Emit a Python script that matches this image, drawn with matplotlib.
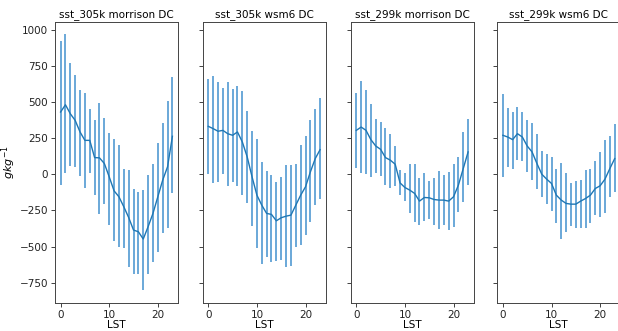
import matplotlib
matplotlib.use("Agg")
import matplotlib.pyplot as plt
import numpy as np

hours = list(range(24))
titles = ["sst_305k morrison DC", "sst_305k wsm6 DC", "sst_299k morrison DC", "sst_299k wsm6 DC"]

mean_305_morr = [430, 480, 418, 372, 292, 234, 234, 115, 113, 74, -18, -115, -156, -225, -299, -386, -398, -448, -363, -271, -156, -41, 51, 262]
lo_305_morr = [-76, 5, 55, 51, -11, -92, 9, -145, -278, -207, -352, -462, -501, -513, -639, -690, -690, -800, -690, -609, -536, -409, -375, -133]
hi_305_morr = [924, 966, 768, 685, 579, 561, 453, 372, 494, 386, 285, 241, 200, 39, 28, -103, -126, -110, -7, 69, 216, 354, 506, 671]

mean_305_wsm6 = [331, 315, 297, 303, 280, 269, 292, 223, 120, -18, -145, -214, -271, -278, -322, -301, -290, -283, -214, -145, -87, 16, 108, 170]
lo_305_wsm6 = [0, -64, -52, 0, -83, -53, -80, -145, -202, -356, -513, -621, -570, -605, -598, -593, -644, -632, -501, -490, -418, -329, -214, -170]
hi_305_wsm6 = [655, 680, 634, 598, 634, 591, 609, 575, 434, 299, 246, 85, 25, -7, -57, -18, 64, 64, 69, 202, 262, 372, 453, 529]

mean_299_morr = [303, 326, 303, 239, 195, 172, 115, 97, 69, -60, -92, -110, -133, -186, -161, -163, -175, -179, -179, -186, -156, -76, 39, 154]
lo_299_morr = [44, 5, 0, -18, 9, -11, -78, -94, -80, -145, -186, -271, -329, -349, -324, -308, -351, -381, -354, -384, -368, -264, -191, -76]
hi_299_morr = [563, 646, 584, 487, 379, 361, 320, 280, 195, 32, 5, 69, 69, -28, 5, -48, -28, 25, -7, 18, 69, 120, 292, 384]

mean_299_wsm6 = [269, 257, 239, 280, 257, 195, 154, 74, 0, -34, -64, -145, -179, -202, -207, -207, -186, -168, -145, -99, -80, -34, 39, 108]
lo_299_wsm6 = [-18, 48, 39, 101, 90, 16, -41, -99, -156, -207, -253, -336, -446, -402, -359, -375, -370, -375, -340, -283, -294, -271, -161, -126]
hi_299_wsm6 = [552, 460, 428, 464, 430, 372, 356, 280, 161, 143, 120, 34, 80, 5, -60, -46, -41, 32, 39, 90, 154, 239, 262, 349]

means = [mean_305_morr, mean_305_wsm6, mean_299_morr, mean_299_wsm6]
los = [lo_305_morr, lo_305_wsm6, lo_299_morr, lo_299_wsm6]
his = [hi_305_morr, hi_305_wsm6, hi_299_morr, hi_299_wsm6]

fig = plt.figure(figsize=(6.18, 3.31), dpi=100)
lefts = [55 / 618, 202.7 / 618, 350.7 / 618, 497.3 / 618]
w = 123 / 618
b = (331 - 302.7) / 331
h = 281 / 331

axes = []
for i in range(4):
    ax = fig.add_axes([lefts[i], b, w, h], sharey=axes[0] if axes else None)
    axes.append(ax)
    m = np.array(means[i])
    lo = np.array(los[i])
    hi = np.array(his[i])
    ax.errorbar(hours, m, yerr=[m - lo, hi - m], color="#1f77b4", ecolor="#6aa8d8",
                elinewidth=1.4, linewidth=1.0, capsize=0)
    ax.set_title(titles[i], fontsize=7.5, pad=3)
    ax.set_xlabel("LST", fontsize=7.5, labelpad=0)
    ax.tick_params(labelsize=7.5, length=3, width=0.6, pad=2, colors="#222222")
    for s in ax.spines.values():
        s.set_linewidth(0.7)
        s.set_color("#444444")
    if i > 0:
        ax.tick_params(labelleft=False)

axes[0].set_ylabel("$gkg^{-1}$", fontsize=8, labelpad=1)
axes[0].set_yticks([-750, -500, -250, 0, 250, 500, 750, 1000])

fig.savefig("out.png", dpi=100)
